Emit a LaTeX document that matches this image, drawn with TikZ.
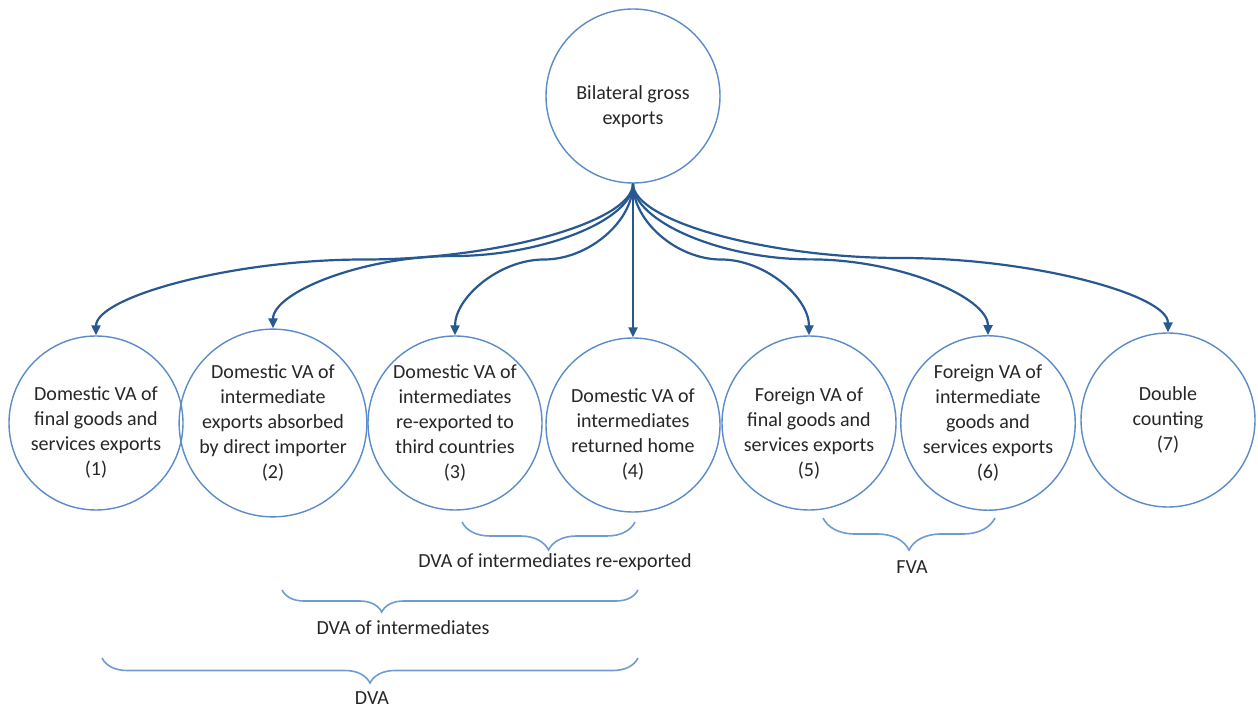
\documentclass[tikz,border=0pt]{standalone}
\usepackage{fontspec}
\setmainfont{Carlito}
\usetikzlibrary{arrows.meta,calc,decorations.pathreplacing}

\definecolor{ringblue}{RGB}{91,139,201}
\definecolor{linkblue}{RGB}{40,88,145}
\definecolor{braceblue}{RGB}{112,155,210}
\definecolor{inkgrey}{RGB}{38,38,38}

% pushes a text block a little below the middle of its circle
\newcommand\sink[1]{\rule{0pt}{#1}}

\tikzset{
  part/.style={circle,draw=ringblue,line width=0.7pt,minimum size=87pt,inner sep=0pt,
    align=center,text=inkgrey,font=\fontsize{10}{12.5}\selectfont},
  link/.style={draw=linkblue,line width=1.1pt,-{Triangle[length=5pt,width=4.5pt]}},
  curly/.style={draw=braceblue,line width=0.8pt,decorate,
    decoration={brace,mirror,amplitude=#1}},
  sumlabel/.style={text=inkgrey,inner sep=1pt,font=\fontsize{10}{12.5}\selectfont},
}

\begin{document}
\begin{tikzpicture}[x=0.5pt,y=-0.5pt]
  \useasboundingbox (0,0) rectangle (1258,710);

  \node[part] (gross) at (633,96) {\sink{18pt}Bilateral gross\\exports};

  \node[part] (c1) at (96,423)   {\sink{16pt}Domestic VA of\\final goods and\\services exports\\(1)};
  \node[part] (c2) at (273,423)  {Domestic VA of\\intermediate\\exports absorbed\\by direct importer\\(2)};
  \node[part] (c3) at (455,423)  {Domestic VA of\\intermediates\\re-exported to\\third countries\\(3)};
  \node[part] (c4) at (633,425)  {\sink{16pt}Domestic VA of\\intermediates\\returned home\\(4)};
  \node[part] (c5) at (809,423)  {\sink{17pt}Foreign VA of\\final goods and\\services exports\\(5)};
  \node[part] (c6) at (988,423)  {Foreign VA of\\intermediate\\goods and\\services exports\\(6)};
  \node[part] (c7) at (1168,420) {Double\\counting\\(7)};

  % curved links, bent half way down
  \foreach \n in {1,...,7} {
    \coordinate (q1) at ($(gross.south)!.25!(c\n.north)$);
    \coordinate (m)  at ($(gross.south)!.5!(c\n.north)$);
    \coordinate (q3) at ($(gross.south)!.75!(c\n.north)$);
    \draw[link] (gross.south) .. controls (gross.south |- q1) and (q1 |- m) .. (m)
      .. controls (q3 |- m) and (c\n.north |- q3) .. (c\n.north);
  }

  % braces
  \draw[curly=14pt] (462,522) -- (635,522);
  \node[sumlabel] (reexp) at (555,562) {DVA of intermediates re-exported};
  \draw[curly=11pt,decoration={aspect=0.28}] (282,590) -- (638,590);
  \node[sumlabel] (interm) at (403,628) {DVA of intermediates};
  \draw[curly=12.5pt] (102,658) -- (638,658);
  \node[sumlabel] (dva) at (372,698) {DVA};
  \draw[curly=16pt] (823,518) -- (995,518);
  \node[sumlabel] (fva) at (912,567) {FVA};
\end{tikzpicture}
\end{document}
